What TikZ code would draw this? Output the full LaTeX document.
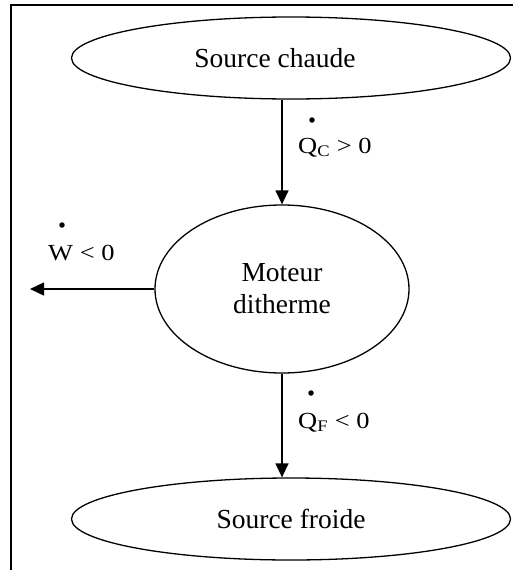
\documentclass[tikz,border=0pt]{standalone}
\usepackage{fontspec}
\setmainfont{Liberation Serif}
\usetikzlibrary{arrows.meta,positioning,shapes.geometric}

\newcommand{\flowlabel}[1]{\scalebox{1.15}[1]{\fontsize{23}{27}\selectfont #1}}

\begin{document}
\begin{tikzpicture}[x=1pt, y=-1pt, >={Triangle[width=13pt,length=14pt]}, every node/.style={align=center}]
  \useasboundingbox (0,0) rectangle (513,570);
  \fontsize{27.5}{32}\selectfont
  % frame
  \draw[line width=1.6pt] (11,570) -- (11,5) -- (513,5);
  % reservoirs and engine
  \node[draw,ellipse,line width=1.3pt,minimum width=439pt,minimum height=82pt,inner sep=0pt] (hot) at (291,58) {\raisebox{-4pt}{Source chaude}\hspace*{32pt}};
  \node[draw,ellipse,line width=1.3pt,minimum width=254pt,minimum height=168pt,inner sep=0pt] (engine) at (282,289) {Moteur\\ditherme};
  \node[draw,ellipse,line width=1.3pt,minimum width=439pt,minimum height=82pt,inner sep=0pt] (cold) at (291,519) {\raisebox{-4pt}{Source froide}};
  \coordinate (wout) at (30,289);
  \draw[->,line width=1.4pt] (engine.north |- hot.south) -- (engine.north);
  \draw[->,line width=1.4pt] (engine.south) -- (engine.south |- cold.north);
  \draw[->,line width=1.4pt] (engine.west) -- (wout);
  % labels
  \node[anchor=base west,inner sep=0pt] (qc) at (298,153) {\flowlabel{Q\textsubscript{C} > 0}};
  \node[circle,fill,inner sep=0pt,minimum size=5.5pt] (qcdot) at (312,120) {};
  \node[anchor=base west,inner sep=0pt] (w) at (48,260) {\flowlabel{W < 0}};
  \node[circle,fill,inner sep=0pt,minimum size=5.5pt] (wdot) at (62,225) {};
  \node[anchor=base west,inner sep=0pt] (qf) at (298,428) {\flowlabel{Q\textsubscript{F} < 0}};
  \node[circle,fill,inner sep=0pt,minimum size=5.5pt] (qfdot) at (311,393) {};
\end{tikzpicture}
\end{document}
